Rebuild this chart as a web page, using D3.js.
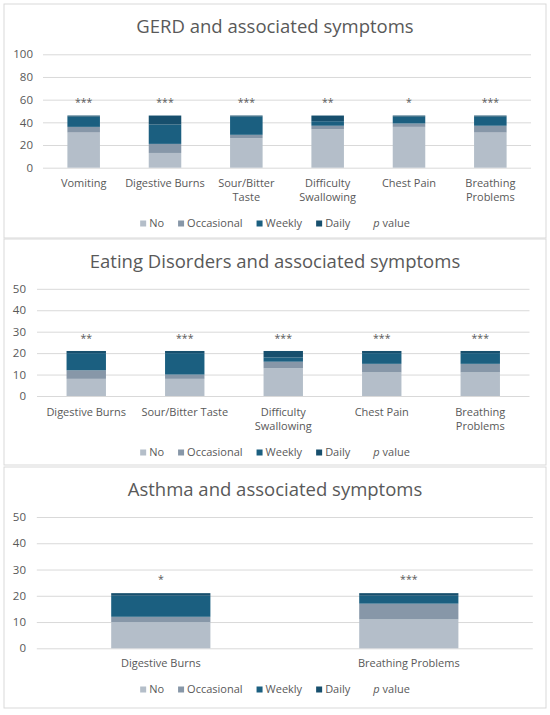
<!DOCTYPE html>
<html>
<head>
<meta charset="utf-8">
<script src="https://cdn.jsdelivr.net/npm/d3@7"></script>
<style>
  body { margin: 0; background: #fff; }
  svg { display: block; font-family: "Open Sans", sans-serif; }
</style>
</head>
<body>
<svg width="550" height="715"></svg>
<script>
// ---- data ----
var seriesNames = ["No", "Occasional", "Weekly", "Daily"];
var legendLabels = ["No", "Occasional", "Weekly", "Daily", "p value"];

// GERD
var gerdSymptoms = ["Vomiting", "Digestive Burns", "Sour/Bitter\nTaste", "Difficulty\nSwallowing", "Chest Pain", "Breathing\nProblems"];
var gerdNo = [31, 13, 26, 34, 36, 31];
var gerdOccasional = [5, 8, 3, 3, 3, 6];
var gerdWeekly = [9, 17, 16, 4, 6, 8];
var gerdDaily = [1, 8, 1, 5, 1, 1];
var gerdP = ["***", "***", "***", "**", "*", "***"];
var gerdTicks = [0, 20, 40, 60, 80, 100];

// Eating disorders
var edSymptoms = ["Digestive Burns", "Sour/Bitter Taste", "Difficulty\nSwallowing", "Chest Pain", "Breathing\nProblems"];
var edNo = [8, 8, 13, 11, 11];
var edOccasional = [4, 2, 3, 4, 4];
var edWeekly = [8, 10, 2, 5, 5];
var edDaily = [1, 1, 3, 1, 1];
var edP = ["**", "***", "***", "***", "***"];
var edTicks = [0, 10, 20, 30, 40, 50];

// Asthma
var asSymptoms = ["Digestive Burns", "Breathing Problems"];
var asNo = [10, 11];
var asOccasional = [2, 6];
var asWeekly = [8, 3];
var asDaily = [1, 1];
var asP = ["*", "***"];
var asTicks = [0, 10, 20, 30, 40, 50];

// p value marks sit at this height on each chart
var pLevel = [60, 28, 27];

var svg = d3.select("svg");

var colour = d3.scaleOrdinal()
    .domain(seriesNames)
    .range(["#b4bec9", "#8797a8", "#1b5f80", "#174f6d"]);

var panels = [
  {title: "GERD and associated symptoms", cats: gerdSymptoms, vals: [gerdNo, gerdOccasional, gerdWeekly, gerdDaily],
   p: gerdP, pAt: pLevel[0], ticks: gerdTicks,
   box: [4, 4, 542, 234], titleY: 27, left: 43, right: 531, top: 54.3, bottom: 167.7, labelY: 183, legendY: 223, tickX: 33},
  {title: "Eating Disorders and associated symptoms", cats: edSymptoms, vals: [edNo, edOccasional, edWeekly, edDaily],
   p: edP, pAt: pLevel[1], ticks: edTicks,
   box: [4, 239, 542, 226], titleY: 262, left: 37, right: 529.5, top: 288.8, bottom: 396, labelY: 412, legendY: 452, tickX: 26},
  {title: "Asthma and associated symptoms", cats: asSymptoms, vals: [asNo, asOccasional, asWeekly, asDaily],
   p: asP, pAt: pLevel[2], ticks: asTicks,
   box: [4, 467, 542, 241], titleY: 490, left: 36.8, right: 532.8, top: 517, bottom: 648.3, labelY: 663, legendY: 689, tickX: 26}
];

panels.forEach(function(pn) {
  var g = svg.append("g");

  //panel frame
  g.append("rect")
      .attr("x", pn.box[0]).attr("y", pn.box[1])
      .attr("width", pn.box[2]).attr("height", pn.box[3])
      .attr("fill", "#fff")
      .attr("stroke", "#d9d9d9");

  g.append("text")
      .attr("x", 275)
      .attr("y", pn.titleY)
      .attr("dy", "0.35em")
      .attr("text-anchor", "middle")
      .attr("fill", "#595959")
      .attr("font-size", 18.5)
      .text(pn.title);

  // table for the stack
  var rows = pn.cats.map(function(c, i) {
    var r = {cat: c};
    seriesNames.forEach(function(s, k) { r[s] = pn.vals[k][i]; });
    return r;
  });

  var x = d3.scaleBand()
      .domain(pn.cats)
      .range([pn.left, pn.right])
      .paddingInner(0.6)
      .paddingOuter(0.3);

  var y = d3.scaleLinear()
      .domain([0, d3.max(pn.ticks)])
      .range([pn.bottom, pn.top]);

  //gridlines + tick labels
  var yAxis = g.append("g")
      .attr("transform", "translate(" + pn.left + ",0)")
      .call(d3.axisLeft(y).tickValues(pn.ticks).tickSize(-(pn.right - pn.left)).tickPadding(pn.left - pn.tickX));
  yAxis.select(".domain").remove();
  yAxis.selectAll(".tick line").attr("stroke", "#d9d9d9");
  yAxis.selectAll(".tick text")
      .attr("fill", "#595959")
      .attr("font-size", 11.5)
      .attr("font-family", "Open Sans, sans-serif");

  //bars
  g.append("g")
    .selectAll("g")
    .data(d3.stack().keys(seriesNames)(rows))
    .enter().append("g")
      .attr("fill", function(d) { return colour(d.key); })
    .selectAll("rect")
    .data(function(d) { return d; })
    .enter().append("rect")
      .attr("x", function(d) { return x(d.data.cat); })
      .attr("y", function(d) { return y(d[1]); })
      .attr("height", function(d) { return y(d[0]) - y(d[1]); })
      .attr("width", x.bandwidth());

  //p value stars
  g.append("g")
    .selectAll("text")
    .data(pn.p)
    .enter().append("text")
      .attr("x", function(d, i) { return x(pn.cats[i]) + x.bandwidth() / 2; })
      .attr("y", y(pn.pAt) + 6)
      .attr("text-anchor", "middle")
      .attr("fill", "#595959")
      .attr("font-size", 10.5)
      .text(function(d) { return d; });

  //category labels, one text per line
  var lines = [];
  pn.cats.forEach(function(c) {
    c.split("\n").forEach(function(s, k) { lines.push({cat: c, line: s, k: k}); });
  });
  g.append("g")
    .selectAll("text")
    .data(lines)
    .enter().append("text")
      .attr("x", function(d) { return x(d.cat) + x.bandwidth() / 2; })
      .attr("y", function(d) { return pn.labelY + d.k * 14.5; })
      .attr("dy", "0.35em")
      .attr("text-anchor", "middle")
      .attr("fill", "#595959")
      .attr("font-size", 11)
      .text(function(d) { return d.line; });

  //legend
  var leg = g.append("g")
      .attr("font-size", 11)
      .attr("fill", "#595959");
  var cx = 0;
  legendLabels.forEach(function(name, i) {
    var it = leg.append("g");
    if (i < seriesNames.length) {
      it.append("rect")
          .attr("x", 0).attr("y", -2.5)
          .attr("width", 6).attr("height", 6)
          .attr("fill", colour(name));
    }
    var t = it.append("text")
        .attr("x", 9)
        .attr("dy", "0.35em");
    if (name === "p value") {
      t.append("tspan").attr("font-style", "italic").text("p");
      t.append("tspan").text(" value");
    } else {
      t.text(name);
    }
    it.attr("transform", "translate(" + cx + ",0)");
    cx += 9 + t.node().getComputedTextLength() + 14;
  });
  var total = cx - 14;
  leg.attr("transform", "translate(" + (275 - total / 2) + "," + pn.legendY + ")");
});
</script>
</body>
</html>
